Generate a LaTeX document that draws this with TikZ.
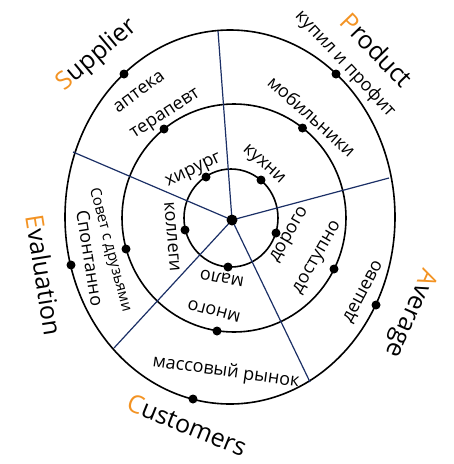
\documentclass[tikz,border=0pt]{standalone}
\usepackage{fontspec}
\setmainfont{Open Sans}
\definecolor{lineblue}{HTML}{1B2F66}
\definecolor{accent}{HTML}{F39323}

\begin{document}
\begin{tikzpicture}[
    x=1pt, y=-1pt,
    band/.style={draw=black, line width=1.6pt},
    spoke/.style={draw=lineblue, line width=1.2pt},
    dot/.style={circle, fill=black, inner sep=0pt, minimum size=9pt},
    ring/.style={font=\fontsize{18}{18}\selectfont, inner sep=0pt},
    cat/.style={font=\fontsize{25}{25}\selectfont, inner sep=0pt}
]

% SAME BOUNDING BOX
\path[use as bounding box] (0,0) rectangle (454,464);

% rings
\draw[band] (230,217) ellipse [x radius=165, y radius=187];
\draw[band] (234,218) ellipse [x radius=112, y radius=114];
\draw[band] (231,218) ellipse [x radius=47, y radius=49];

% spokes
\coordinate (ctr) at (232,220);
\coordinate (e1) at (218,31);
\coordinate (e2) at (389,178);
\coordinate (e3) at (310,382);
\coordinate (e4) at (114,348);
\coordinate (e5) at (73,152);
\draw[spoke] (ctr) -- (e1);
\draw[spoke] (ctr) -- (e2);
\draw[spoke] (ctr) -- (e3);
\draw[spoke] (ctr) -- (e4);
\draw[spoke] (ctr) -- (e5);

% dots
\node[dot, minimum size=11pt] (c) at (ctr) {};
\node[dot] (i1) at (206,177) {};
\node[dot] (i2) at (261,180) {};
\node[dot] (i3) at (276,233) {};
\node[dot] (i4) at (228,267) {};
\node[dot] (i5) at (185,230) {};
\node[dot] (m1) at (164,129) {};
\node[dot] (m2) at (302.5,128) {};
\node[dot] (m3) at (334,269) {};
\node[dot] (m4) at (217,331) {};
\node[dot] (m5) at (126,249) {};
\node[dot] (o1) at (124,74) {};
\node[dot] (o2) at (336,74) {};
\node[dot] (o3) at (376,305) {};
\node[dot] (o4) at (193,399) {};
\node[dot] (o5) at (71,265) {};

% sector names
\node[cat, rotate=40] (supplier) at (97,55) {\textcolor{accent}{S}upplier};
\node[cat, rotate=-46] (product) at (377,50) {\textcolor{accent}{P}roduct};
\node[cat, rotate=-114] (average) at (410,313) {\textcolor{accent}{A}verage};
\node[cat, rotate=-22] (customers) at (187,425) {\textcolor{accent}{C}ustomers};
\node[cat, rotate=-81] (evaluation) at (44,275) {\textcolor{accent}{E}valuation};

% ring labels
\node[ring, rotate=36] (apteka) at (139,92) {аптека};
\node[ring, rotate=33] (terapevt) at (166,115) {терапевт};
\node[ring, rotate=25] (khirurg) at (194,171) {хирург};
\node[ring, rotate=-42] (kukhni) at (263,165) {кухни};
\node[ring, rotate=-42] (mobilniki) at (312,116) {мобильники};
\node[ring, rotate=-47] (kupil) at (345,64) {купил и профит};
\node[ring, rotate=60] (dorogo) at (290,235) {дорого};
\node[ring, rotate=60] (dostupno) at (318,258) {доступно};
\node[ring, rotate=62] (deshevo) at (364,292) {дешево};
\node[ring, rotate=170] (malo) at (222,278) {мало};
\node[ring, rotate=165] (mnogo) at (214,311) {много};
\node[ring, rotate=-8] (massovy) at (226,372) {массовый рынок};
\node[ring, rotate=-85] (kollegi) at (172,237) {коллеги};
\node[ring, rotate=-75, font=\fontsize{15}{15}\selectfont] (sovet) at (110,250) {Совет с друзьями};
\node[ring, rotate=-81] (spontanno) at (90,258) {Спонтанно};

\end{tikzpicture}
\end{document}
